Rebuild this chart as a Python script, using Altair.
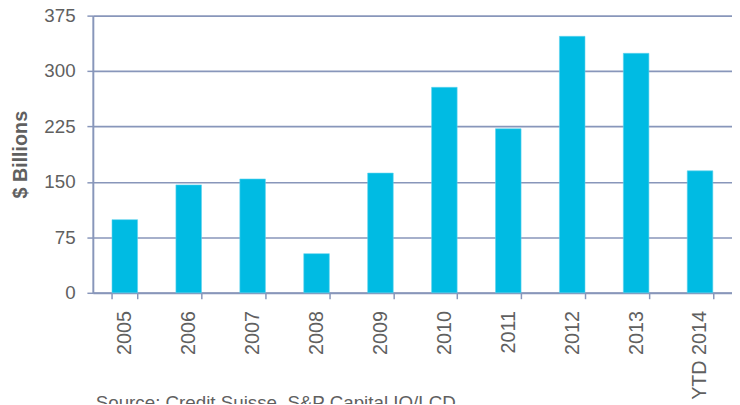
import altair as alt
import pandas as pd

categories = ["2005", "2006", "2007", "2008", "2009", "2010", "2011", "2012", "2013", "YTD 2014"]
values = [99, 146, 154, 53, 162, 278, 222, 347, 324, 165]
y_ticks = [0, 75, 150, 225, 300, 375]
source_text = "Source: Credit Suisse, S&P Capital IQ/LCD"

df = pd.DataFrame({"year": categories, "value": values})
grid_color = "#8896BA"
text_color = "#606060"
font = "Liberation Sans"

bars = alt.Chart(df).mark_bar(color="#00BBE3", stroke="#5FD3EE", strokeWidth=0.6).encode(
    x=alt.X("year:N", sort=categories,
            scale=alt.Scale(paddingInner=0.6, paddingOuter=0.3),
            axis=alt.Axis(title=None, labelAngle=-90, labelFontSize=20, labelColor=text_color,
                          labelFont=font, tickBand="extent", tickColor=grid_color, tickSize=6,
                          tickWidth=1.5, domainColor=grid_color, domainWidth=2, labelPadding=12,
                          grid=False)),
    y=alt.Y("value:Q", scale=alt.Scale(domain=[0, 375], nice=False),
            axis=alt.Axis(title="$ Billions", values=y_ticks, labelFontSize=19, labelColor=text_color,
                          labelFont=font, titleFont=font, titleFontSize=20, titleFontWeight="bold",
                          titleColor=text_color, titlePadding=14, tickColor=grid_color, tickSize=6,
                          tickWidth=1.5, domainColor=grid_color, domainWidth=2, gridColor=grid_color,
                          gridWidth=1.6, gridOpacity=1, labelPadding=12)),
)

src = alt.Chart(pd.DataFrame({"t": [source_text]})).mark_text(
    align="left", baseline="top", fontSize=19, color=text_color, font=font
).encode(text="t:N", x=alt.value(3), y=alt.value(384))

chart = alt.layer(bars, src).properties(
    width=648, height=281,
    autosize=alt.AutoSizeParams(type="none"),
    padding={"left": 86, "top": 5, "right": 0, "bottom": 110},
).configure_view(stroke=None)

chart.save("out.html", embed_options={"renderer": "svg", "actions": False})
